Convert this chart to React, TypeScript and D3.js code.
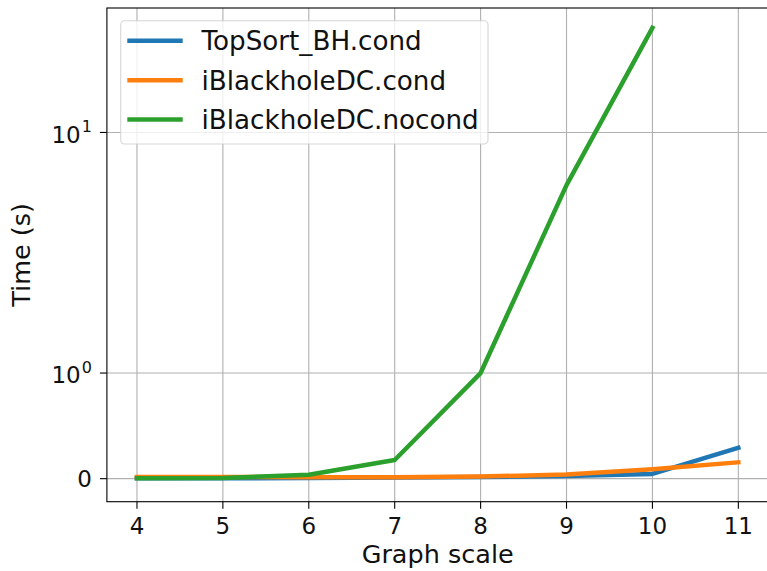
import React from "react";
import * as d3 from "d3";

const scales = [4, 5, 6, 7, 8, 9, 10, 11];
const topSortCond = [0.003, 0.004, 0.006, 0.01, 0.015, 0.025, 0.045, 0.293];
const iBlackholeCond = [0.015, 0.016, 0.014, 0.014, 0.02, 0.04, 0.09, 0.155];
const iBlackholeNocond = [0.004, 0.007, 0.038, 0.177, 1.0, 6.04, 27.2];
const seriesNames = ["TopSort_BH.cond", "iBlackholeDC.cond", "iBlackholeDC.nocond"];
const seriesColors = ["#1f77b4", "#ff7f0e", "#2ca02c"];
const xTicks = [4, 5, 6, 7, 8, 9, 10, 11];
const yTicks = [0, 1, 10];
const xLimits = [3.65, 11.35];
const yLimits = [-0.218, 32.9];

// matplotlib-like symlog transform (linthresh = 1)
const LINSCALE = 0.439;
const symlog = (v: number) =>
  Math.abs(v) <= 1 ? v * LINSCALE : Math.sign(v) * (LINSCALE + Math.log10(Math.abs(v)));

const W = 767;
const H = 571;
const left = 106.9;
const right = 768.4;
const top = 8;
const bottom = 501.7;
const FONT = "DejaVu Sans, sans-serif";
const TEXT = "#111";

export default function App() {
  const x = d3.scaleLinear().domain(xLimits).range([left, right]);
  const yT = d3.scaleLinear().domain(yLimits.map(symlog)).range([bottom, top]);
  const y = (v: number) => yT(symlog(v));

  const series = [
    scales.map((s, i) => [s, topSortCond[i]] as [number, number]),
    scales.map((s, i) => [s, iBlackholeCond[i]] as [number, number]),
    iBlackholeNocond.map((v, i) => [scales[i], v] as [number, number]),
  ];
  const line = d3
    .line<[number, number]>()
    .x((d) => x(d[0]))
    .y((d) => y(d[1]));

  const legendX = 120.7;
  const legendY = 20.7;
  const legendW = 367.3;
  const legendH = 123.3;
  const rowY = [40.7, 80.3, 119.5];

  return (
    <svg
      width={W}
      height={H}
      style={{ position: "absolute", left: 0, top: 0, background: "#fff" }}
      fontFamily={FONT}
    >
      <defs>
        <clipPath id="plotclip">
          <rect x={left} y={top} width={right - left} height={bottom - top} />
        </clipPath>
      </defs>
      <rect x={0} y={0} width={W} height={H} fill="#fff" />
      {/* grid */}
      {xTicks.map((t) => (
        <line key={"gx" + t} x1={x(t)} x2={x(t)} y1={top} y2={bottom} stroke="#b0b0b0" strokeWidth={1.1} />
      ))}
      {yTicks.map((t) => (
        <line key={"gy" + t} x1={left} x2={right} y1={y(t)} y2={y(t)} stroke="#b0b0b0" strokeWidth={1.1} />
      ))}
      {/* lines */}
      <g clipPath="url(#plotclip)">
        {series.map((s, i) => (
          <path
            key={i}
            d={line(s) || ""}
            fill="none"
            stroke={seriesColors[i]}
            strokeWidth={4.5}
            strokeLinecap="square"
            strokeLinejoin="round"
          />
        ))}
      </g>
      {/* spines */}
      <rect x={left} y={top} width={right - left} height={bottom - top} fill="none" stroke="#000" strokeWidth={1.1} />
      {/* x ticks */}
      {xTicks.map((t) => (
        <g key={"xt" + t}>
          <line x1={x(t)} x2={x(t)} y1={bottom} y2={bottom + 7} stroke="#000" strokeWidth={1.1} />
          <text x={x(t)} y={bottom + 32} textAnchor="middle" fontSize={23} fill={TEXT}>
            {t}
          </text>
        </g>
      ))}
      {/* y ticks */}
      {yTicks.map((t) => (
        <g key={"yt" + t}>
          <line x1={left - 7} x2={left} y1={y(t)} y2={y(t)} stroke="#000" strokeWidth={1.1} />
          {t === 0 ? (
            <text x={left - 15} y={y(t) + 8.3} textAnchor="end" fontSize={23} fill={TEXT}>
              0
            </text>
          ) : (
            <text x={left - 15} y={y(t) + 10.3} textAnchor="end" fontSize={23} fill={TEXT}>
              10
              <tspan fontSize={16} dy={-10.5} dx={1}>
                {String(Math.round(Math.log10(t)))}
              </tspan>
            </text>
          )}
        </g>
      ))}
      {/* axis labels */}
      <text x={(left + right) / 2} y={563} textAnchor="middle" fontSize={25.5} fill={TEXT}>
        Graph scale
      </text>
      <text
        transform={`translate(30, ${(top + bottom) / 2}) rotate(-90)`}
        textAnchor="middle"
        fontSize={25.5}
        fill={TEXT}
      >
        Time (s)
      </text>
      {/* legend */}
      <rect
        x={legendX}
        y={legendY}
        width={legendW}
        height={legendH}
        rx={4}
        ry={4}
        fill="#fff"
        fillOpacity={0.8}
        stroke="#cccccc"
        strokeOpacity={0.8}
        strokeWidth={1.1}
      />
      {seriesNames.map((n, i) => (
        <g key={n}>
          <line x1={127.3} x2={182.7} y1={rowY[i]} y2={rowY[i]} stroke={seriesColors[i]} strokeWidth={4.5} />
          <text x={201.5} y={rowY[i] + 9.5} fontSize={26.2} fill={TEXT}>
            {n}
          </text>
        </g>
      ))}
    </svg>
  );
}
